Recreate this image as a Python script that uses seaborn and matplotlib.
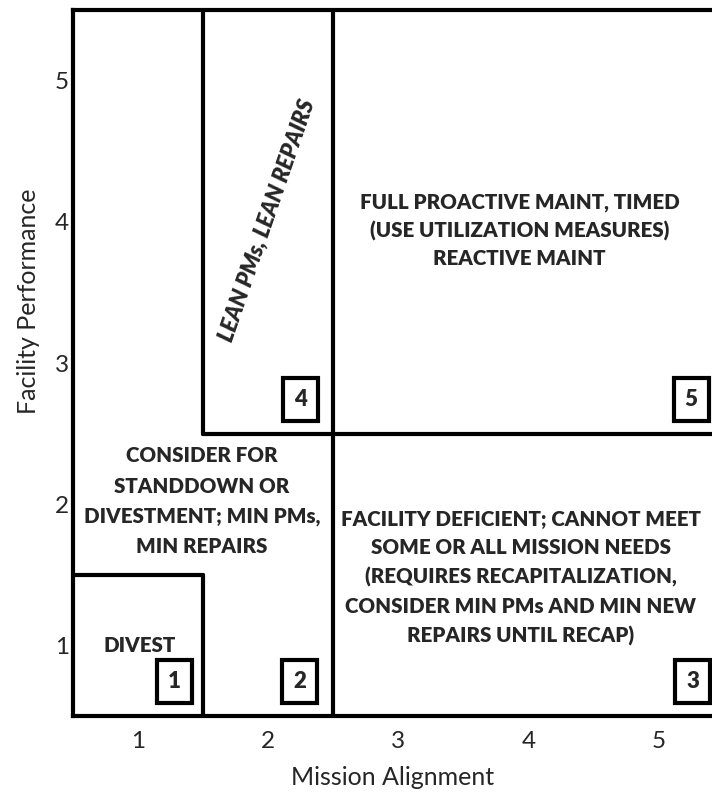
import numpy as np
import pandas as pd
import matplotlib
matplotlib.use("Agg")
import matplotlib.pyplot as plt
import seaborn as sns

# boundary segments of the decision matrix (x0, x1, y0, y1)
seg_x0 = [2.5, 1.5, 1.5, 0.5, 1.5]
seg_x1 = [2.5, 5.5, 1.5, 1.5, 1.5]
seg_y0 = [0.5, 2.5, 2.5, 1.5, 0.5]
seg_y1 = [5.5, 2.5, 5.5, 1.5, 1.5]

ticks = [1, 2, 3, 4, 5]
x_title = "Mission Alignment"
y_title = "Facility Performance"

region_text = [
    "DIVEST",
    "CONSIDER FOR\nSTANDDOWN OR\nDIVESTMENT; MIN PMs,\nMIN REPAIRS",
    "FACILITY DEFICIENT; CANNOT MEET\nSOME OR ALL MISSION NEEDS\n(REQUIRES RECAPITALIZATION,\nCONSIDER MIN PMs AND MIN NEW\nREPAIRS UNTIL RECAP)",
    "LEAN PMs, LEAN REPAIRS",
    "FULL PROACTIVE MAINT, TIMED\n(USE UTILIZATION MEASURES)\nREACTIVE MAINT",
]
region_x = [1.01, 1.49, 3.94, 1.99, 3.93]
region_y = [1.00, 2.02, 1.48, 4.01, 3.94]

box_labels = ["1", "2", "3", "4", "5"]
box_x = [1.28, 2.24, 5.26, 2.25, 5.25]
box_y = [0.745, 0.745, 0.745, 2.74, 2.74]

sns.set_theme(style="white")
plt.rcParams["font.family"] = ["Lato", "DejaVu Sans"]

seg = pd.DataFrame({
    "seg": np.repeat(np.arange(len(seg_x0)), 2),
    "x": np.ravel(np.column_stack([seg_x0, seg_x1])),
    "y": np.ravel(np.column_stack([seg_y0, seg_y1])),
})

fig = plt.figure(figsize=(7.12, 7.92), dpi=100)
ax = fig.add_axes([0.1025, 0.096, 0.8975, 0.891])

sns.lineplot(data=seg, x="x", y="y", units="seg", estimator=None, sort=False,
             color="black", linewidth=3, ax=ax, legend=False)

ax.set_xlim(0.5, 5.41)
ax.set_ylim(0.5, 5.5)
ax.set_xticks(ticks)
ax.set_yticks(ticks)
ax.tick_params(labelsize=17.5, length=0)
ax.tick_params(axis="x", pad=11)
ax.tick_params(axis="y", pad=3)
ax.set_xlabel(x_title, fontsize=18)
ax.set_ylabel(y_title, fontsize=18)
ax.xaxis.set_label_coords(0.5, -0.071)
ax.yaxis.set_label_coords(-0.07, 0.588)
ax.yaxis.label.set_va("center")

for side in ["left", "bottom", "top"]:
    ax.spines[side].set_linewidth(3)
    ax.spines[side].set_color("black")
ax.spines["right"].set_visible(False)

spacing = [1.6, 1.7, 1.6, 1.6, 1.5]
for i, t in enumerate(region_text):
    if i == 3:
        ax.text(region_x[i], region_y[i], t, rotation=71, fontsize=16,
                fontweight="heavy", fontstyle="italic", ha="center", va="center")
    else:
        ax.text(region_x[i], region_y[i], t, fontsize=14.8, fontweight="heavy",
                ha="center", va="center", linespacing=spacing[i])

for lab, bx, by in zip(box_labels, box_x, box_y):
    ax.text(bx, by, lab, fontsize=16, fontweight="heavy", ha="center", va="center",
            bbox=dict(boxstyle="square,pad=0.5", fc="white", ec="black", lw=3))

fig.savefig("out.png", dpi=100)
